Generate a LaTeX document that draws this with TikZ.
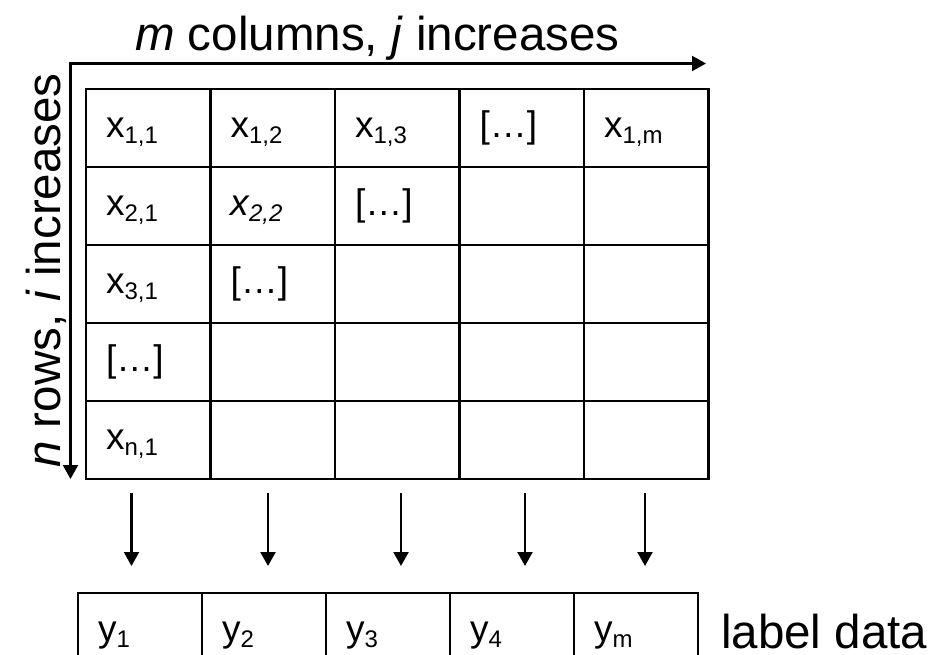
\documentclass[tikz,border=0pt]{standalone}
\usepackage{fontspec}
\setmainfont{Liberation Sans}
\usetikzlibrary{arrows.meta}
\newcommand{\mysub}[1]{\raisebox{-6pt}{\fontsize{24}{24}\selectfont #1}}
\begin{document}
\begin{tikzpicture}[x=1pt,y=-1pt,
  cell/.style={draw, line width=2.2pt, minimum width=124.5pt, minimum height=78pt,
    inner xsep=20pt, inner ysep=0pt, text width=84.5pt, align=left,
    text height=24pt, text depth=6pt, anchor=north west, outer sep=0pt,
    font=\fontsize{37}{37}\selectfont},
  ycell/.style={cell, minimum width=124pt, text width=84pt},
  bigtext/.style={inner sep=0pt, font=\fontsize{47.5}{47.5}\selectfont},
  axis/.style={line width=2.2pt, {Triangle[width=15pt,length=14pt]}-{Triangle[width=15pt,length=14pt]}},
  down/.style={line width=2.2pt, -{Triangle[width=15pt,length=14pt]}}]
\useasboundingbox (0,0) rectangle (931,654);
\clip (0,0) rectangle (931,654);
\fill[white] (0,0) rectangle (931,654);
% title and axes
\node[bigtext, anchor=base west] (title) at (135,50) {\textit{m} columns, \textit{j} increases};
\node[bigtext, rotate=90, anchor=base west] (rowlab) at (60,468) {\textit{n} rows, \textit{i} increases};
\coordinate (corner) at (70.5,63.5);
\coordinate (xend) at (706,63.5);
\coordinate (yend) at (70.5,479);
\draw[axis] (xend) -- (corner) -- (yend);
% row 1
\node[cell] (c11) at (86,89) {x\mysub{1,1}};
\node[cell] (c12) at (210.5,89) {x\mysub{1,2}};
\node[cell] (c13) at (335,89) {x\mysub{1,3}};
\node[cell] (c14) at (459.5,89) {[…]};
\node[cell] (c15) at (584,89) {x\mysub{1,m}};
% row 2
\node[cell] (c21) at (86,167) {x\mysub{2,1}};
\node[cell] (c22) at (210.5,167) {\textit{x\mysub{2,2}}};
\node[cell] (c23) at (335,167) {[…]};
\node[cell] (c24) at (459.5,167) {};
\node[cell] (c25) at (584,167) {};
% row 3
\node[cell] (c31) at (86,245) {x\mysub{3,1}};
\node[cell] (c32) at (210.5,245) {[…]};
\node[cell] (c33) at (335,245) {};
\node[cell] (c34) at (459.5,245) {};
\node[cell] (c35) at (584,245) {};
% row 4
\node[cell] (c41) at (86,323) {[…]};
\node[cell] (c42) at (210.5,323) {};
\node[cell] (c43) at (335,323) {};
\node[cell] (c44) at (459.5,323) {};
\node[cell] (c45) at (584,323) {};
% row 5
\node[cell] (c51) at (86,401) {x\mysub{n,1}};
\node[cell] (c52) at (210.5,401) {};
\node[cell] (c53) at (335,401) {};
\node[cell] (c54) at (459.5,401) {};
\node[cell] (c55) at (584,401) {};
% labels
\node[ycell] (y1) at (78,593) {y\mysub{1}};
\node[ycell] (y2) at (202,593) {y\mysub{2}};
\node[ycell] (y3) at (326,593) {y\mysub{3}};
\node[ycell] (y4) at (450,593) {y\mysub{4}};
\node[ycell] (y5) at (574,593) {y\mysub{m}};
\node[bigtext, anchor=base west] (labdata) at (721,648) {label data};
% down arrows
\foreach \k/\xx in {1/131.5,2/268,3/401,4/525,5/645}{
  \coordinate (s\k) at (\xx,493);
  \coordinate (e\k) at (\xx,566);
  \draw[down] (s\k) -- (e\k);
}
\end{tikzpicture}
\end{document}
